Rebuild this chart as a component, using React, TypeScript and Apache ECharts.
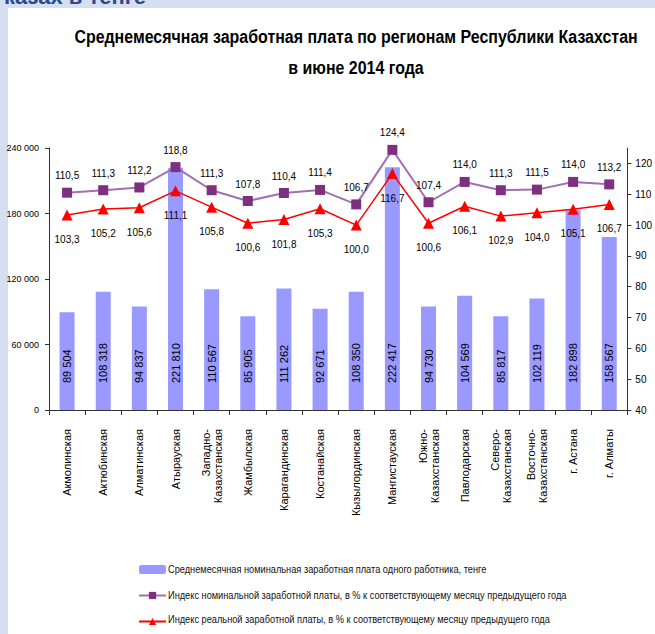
import React, { useEffect, useRef } from "react";
import * as echarts from "echarts";

const categories = [
  "Акмолинская",
  "Актюбинская",
  "Алматинская",
  "Атырауская",
  "Западно-\nКазахстанская",
  "Жамбылская",
  "Карагандинская",
  "Костанайская",
  "Кызылординская",
  "Мангистауская",
  "Южно-\nКазахстанская",
  "Павлодарская",
  "Северо-\nКазахстанская",
  "Восточно-\nКазахстанская",
  "г. Астана",
  "г. Алматы",
];

const salary = [
  89504, 108318, 94837, 221810, 110567, 85905, 111262, 92671, 108350, 222417,
  94730, 104569, 85817, 102119, 182898, 158567,
];

const nominalIndex = [
  110.5, 111.3, 112.2, 118.8, 111.3, 107.8, 110.4, 111.4, 106.7, 124.4, 107.4,
  114.0, 111.3, 111.5, 114.0, 113.2,
];

const realIndex = [
  103.3, 105.2, 105.6, 111.1, 105.8, 100.6, 101.8, 105.3, 100.0, 116.7, 100.6,
  106.1, 102.9, 104.0, 105.1, 106.7,
];

const seriesNames = [
  "Среднемесячная номинальная заработная плата одного работника, тенге",
  "Индекс номинальной заработной платы, в % к соответствующему месяцу предыдущего года",
  "Индекс реальной заработной платы, в % к соответствующему месяцу предыдущего года",
];

const titleLines = [
  "Среднемесячная заработная плата по регионам Республики Казахстан",
  "в июне 2014 года",
];

const SANS = "'Liberation Sans', Arial, sans-serif";

const fmtThousands = (v: number) =>
  String(Math.round(v)).replace(/\B(?=(\d{3})+(?!\d))/g, " ");
const fmtComma = (v: number) => v.toFixed(1).replace(".", ",");

const legendRowsY = [569, 595, 619];

export default function App() {
  const ref = useRef<HTMLDivElement>(null);
  useEffect(() => {
    document.body.style.margin = "0";
    if (!ref.current) return;
    const chart = echarts.init(ref.current, null, { renderer: "svg" });
    const legendTexts = seriesNames.map((name, i) => ({
      type: "text",
      x: 168,
      y: legendRowsY[i],
      scaleX: 0.84,
      style: {
        text: name,
        font: "11px " + SANS,
        fill: "#111",
        textVerticalAlign: "middle",
      },
    }));
    chart.setOption({
      animation: false,
      backgroundColor: "#d5dfef",
      graphic: [
        {
          type: "rect",
          shape: { x: 8, y: 8, width: 660, height: 640 },
          style: { fill: "#ffffff" },
          z: -10,
        },
        {
          type: "text",
          x: 4,
          y: -15,
          style: {
            text: "казах в тенге",
            font: "bold 22px " + SANS,
            fill: "#2b4a8b",
          },
          z: -5,
        },
        {
          type: "text",
          x: 356,
          y: 37,
          scaleX: 0.84,
          style: {
            text: titleLines[0],
            font: "bold 19px " + SANS,
            fill: "#000",
            textAlign: "center",
            textVerticalAlign: "middle",
          },
        },
        {
          type: "text",
          x: 356,
          y: 68,
          scaleX: 0.84,
          style: {
            text: titleLines[1],
            font: "bold 19px " + SANS,
            fill: "#000",
            textAlign: "center",
            textVerticalAlign: "middle",
          },
        },
        ...legendTexts,
      ],
      legend: {
        orient: "vertical",
        left: 133,
        top: 559,
        itemWidth: 27,
        itemHeight: 9,
        itemGap: 15,
        formatter: () => " ",
        textStyle: { fontSize: 11 },
        data: seriesNames,
      },
      grid: { left: 49, right: 23, top: 148, bottom: 224 },
      xAxis: {
        type: "category",
        data: categories,
        axisLine: { lineStyle: { color: "#333", width: 1 } },
        axisTick: { show: true, alignWithLabel: false, length: 5, lineStyle: { color: "#333" } },
        axisLabel: {
          interval: 0,
          rotate: 90,
          margin: 19,
          fontFamily: SANS,
          fontSize: 11,
          color: "#000",
          lineHeight: 12,
        },
      },
      yAxis: [
        {
          type: "value",
          min: 0,
          max: 240000,
          interval: 60000,
          splitLine: { show: false },
          axisLine: { show: true, lineStyle: { color: "#333" } },
          axisTick: { show: true, length: 4, lineStyle: { color: "#333" } },
          axisLabel: {
            formatter: (v: number) => fmtThousands(v),
            fontFamily: SANS,
            fontSize: 9,
            color: "#000",
            margin: 10,
          },
        },
        {
          type: "value",
          min: 40,
          max: 125,
          interval: 10,
          splitLine: { show: false },
          axisLine: { show: true, lineStyle: { color: "#333" } },
          axisTick: { show: true, length: 4, lineStyle: { color: "#333" } },
          axisLabel: {
            showMaxLabel: false,
            formatter: (v: number) => (v > 120 ? "" : String(v)),
            fontFamily: SANS,
            fontSize: 10,
            color: "#000",
            margin: 8,
          },
        },
      ],
      series: [
        {
          name: seriesNames[0],
          type: "bar",
          data: salary,
          yAxisIndex: 0,
          barWidth: 15,
          itemStyle: { color: "#9999ff" },
          label: {
            show: true,
            position: "insideBottom",
            rotate: 90,
            align: "left",
            verticalAlign: "middle",
            distance: 27,
            formatter: (p: any) => fmtThousands(p.value),
            fontFamily: SANS,
            fontSize: 11,
            color: "#000",
          },
        },
        {
          name: seriesNames[1],
          type: "line",
          data: nominalIndex,
          yAxisIndex: 1,
          symbol: "rect",
          symbolSize: 10,
          lineStyle: { color: "#a070b0", width: 2 },
          itemStyle: { color: "#7f2f7f" },
          label: {
            show: true,
            position: "top",
            distance: 7,
            formatter: (p: any) => fmtComma(p.value),
            fontFamily: SANS,
            fontSize: 10,
            color: "#000",
          },
        },
        {
          name: seriesNames[2],
          type: "line",
          data: realIndex,
          yAxisIndex: 1,
          symbol: "triangle",
          symbolSize: 11,
          lineStyle: { color: "#ff0000", width: 1.5 },
          itemStyle: { color: "#ff0000" },
          label: {
            show: true,
            position: "bottom",
            distance: 14,
            formatter: (p: any) => fmtComma(p.value),
            fontFamily: SANS,
            fontSize: 10,
            color: "#000",
          },
        },
      ],
    });
    return () => chart.dispose();
  }, []);
  return <div ref={ref} style={{ width: 655, height: 634 }} />;
}
